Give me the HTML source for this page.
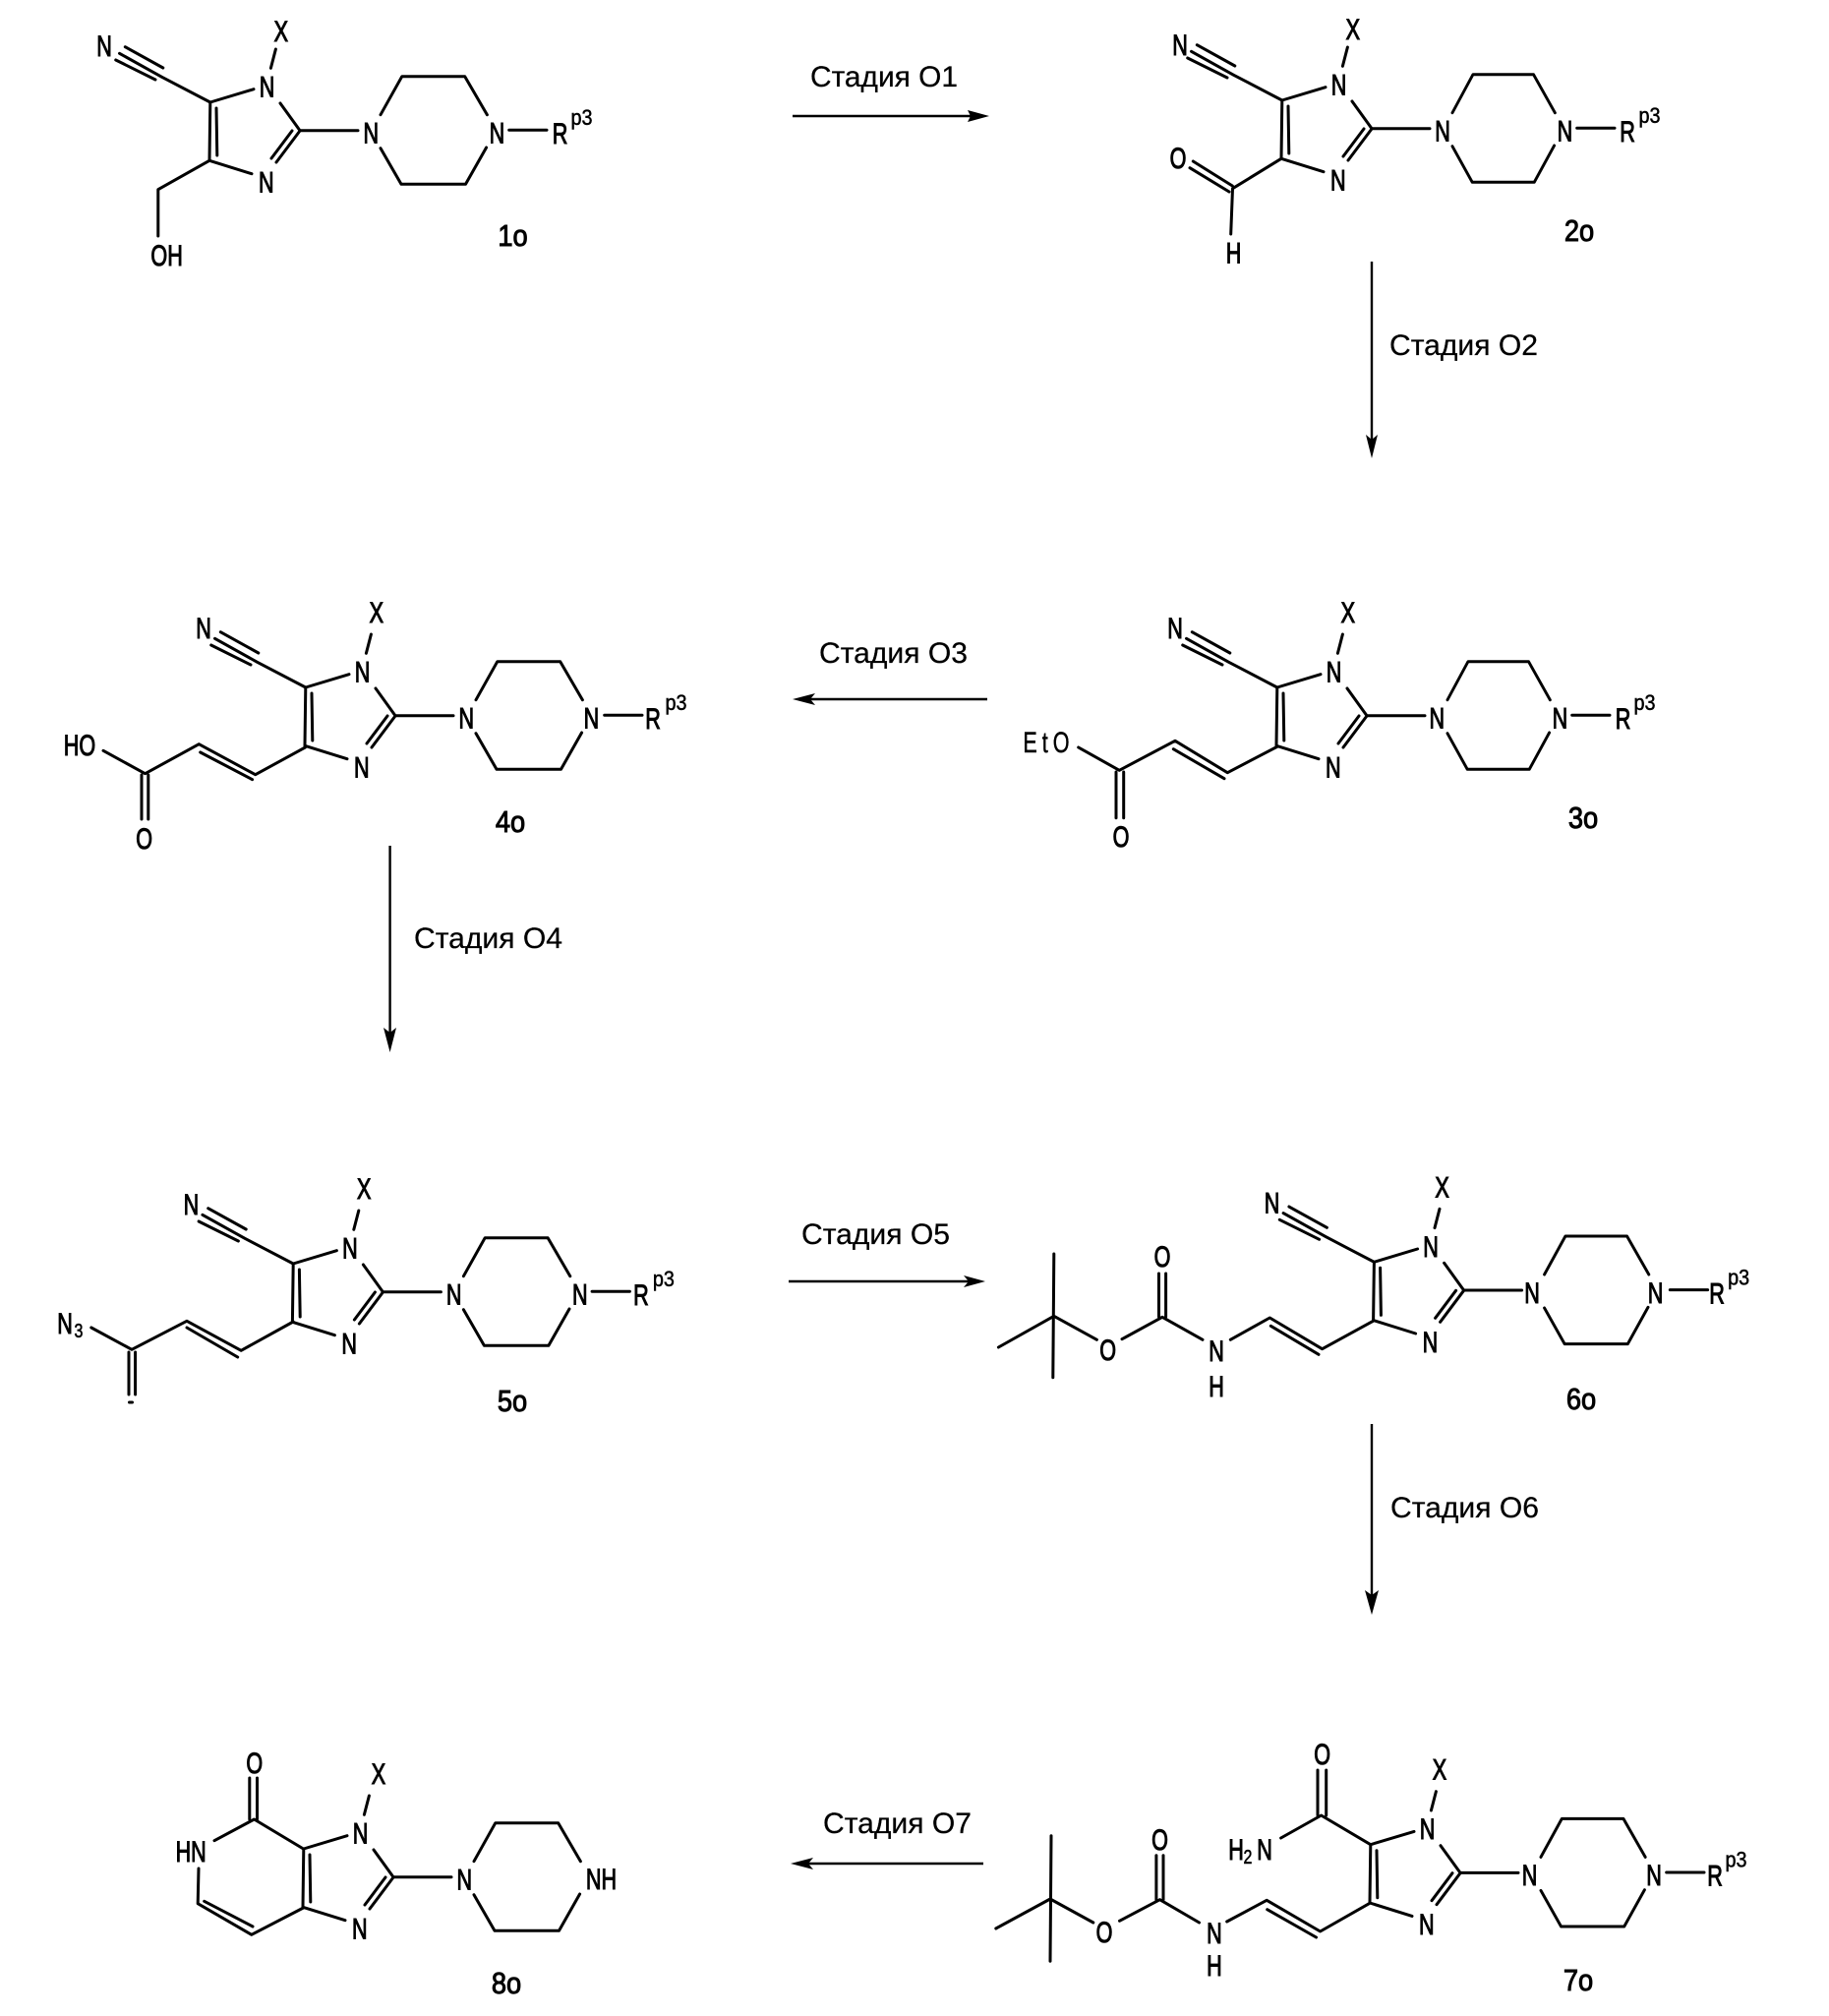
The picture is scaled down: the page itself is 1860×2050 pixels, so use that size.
<!DOCTYPE html>
<html><head><meta charset="utf-8">
<style>
html,body{margin:0;padding:0;background:#fff}
svg{display:block}
.b{fill:none;stroke:#000;stroke-width:3;stroke-linecap:round;stroke-linejoin:round}
.t{fill:none;stroke:#000;stroke-width:2.4}
text{font-family:"Liberation Sans",sans-serif;fill:#000}
.a{font-size:30px;text-anchor:middle;stroke:#000;stroke-width:1.1;transform-box:fill-box;transform-origin:center;transform:scaleX(.72)}
.e{font-size:30px;text-anchor:middle;stroke:#000;stroke-width:.5;letter-spacing:7px;transform-box:fill-box;transform-origin:center;transform:scaleX(.72)}
.s{font-size:22px;text-anchor:middle;stroke:#000;stroke-width:.5;transform-box:fill-box;transform-origin:center;transform:scaleX(.9)}
.u{font-size:20px;text-anchor:middle;stroke:#000;stroke-width:.6;transform-box:fill-box;transform-origin:center;transform:scaleX(.8)}
.l{font-size:31px;text-anchor:middle;stroke:#000;stroke-width:1;transform-box:fill-box;transform-origin:center;transform:scaleX(.88)}
.st{font-size:30px;fill:#000;stroke:#000;stroke-width:.25}
</style></head><body>
<svg xmlns="http://www.w3.org/2000/svg" width="1860" height="2050" viewBox="0 0 1860 2050">
<defs>
<path id="core" class="b" d="M213.8 104L258 90.7M285 105L305 132.7M297 133L276 161M305 133L281 165M256 176.7L213 163.3M213.8 104L213 163.3M220 110L220.8 158M305 132.7H364M280.4 50L275.4 69.3"/>
<path id="pip" class="b" d="M387 116.7L408.8 77.7H472.7L495.4 116.7M387 150.7L408 187.3H473.5L494.6 150"/>
<path id="cy" class="b" d="M213.8 104L164.6 78.3M127.3 47.7L165.8 69M121.5 54.3L164.6 78.3M117.7 61L158 81"/>
<path id="rb" class="b" d="M517.7 132.3H556"/>
</defs>

<!-- 1o -->
<g>
<use href="#core"/><use href="#pip"/><use href="#cy"/><use href="#rb"/>
<path class="b" d="M213 163.3L160.8 192.7V240"/>
<text class="a" x="271.5" y="98.5">N</text><text class="a" x="270.8" y="195.5">N</text><text class="a" x="285.8" y="42">X</text>
<text class="a" x="377.3" y="145.5">N</text><text class="a" x="505.4" y="145.5">N</text><text class="a" x="569.6" y="146">R</text><text class="s" x="591.5" y="127">p3</text>
<text class="a" x="106" y="57">N</text><text class="a" x="169.6" y="270">OH</text><text class="l" x="521.5" y="250">1o</text>
</g>

<!-- 2o -->
<g transform="translate(1090,-2)">
<use href="#core"/><use href="#pip" transform="translate(14.3,0) scale(.963,1)"/><use href="#cy"/><use href="#rb" transform="translate(-4,0)"/>
<path class="b" d="M213 163.3L163.5 193.7L161.7 240M123.3 166L163.3 191M120 172.7L160 197"/>
<text class="a" x="271.5" y="98.5">N</text><text class="a" x="270.8" y="195.5">N</text><text class="a" x="285.8" y="42">X</text>
<text class="a" x="377" y="145.5">N</text><text class="a" x="501.4" y="145.5">N</text><text class="a" x="565" y="146">R</text><text class="s" x="587.5" y="127">p3</text>
<text class="a" x="110" y="58">N</text><text class="a" x="108" y="173">O</text><text class="a" x="164.5" y="269.7">H</text><text class="l" x="516" y="247">2o</text>
</g>

<!-- 3o -->
<g transform="translate(1085,595)">
<use href="#core"/><use href="#pip" transform="translate(14.3,0) scale(.963,1)"/><use href="#cy"/><use href="#rb" transform="translate(-4,0)"/>
<text class="a" x="271.5" y="98.5">N</text><text class="a" x="270.8" y="195.5">N</text><text class="a" x="285.8" y="38">X</text>
<text class="a" x="376.3" y="145.5">N</text><text class="a" x="501.4" y="145.5">N</text><text class="a" x="565.6" y="146">R</text><text class="s" x="587.5" y="127">p3</text>
<text class="a" x="110" y="54">N</text><text class="l" x="525" y="247">3o</text>
</g>
<path class="b" d="M1299.4 759L1248.3 785.7L1195 753.3L1138.3 783.3L1096.7 760M1193.3 761.7L1245 791.7M1135 785V831.7M1142.7 785V831.7"/>
<text class="e" x="1066.5" y="765">EtO</text>
<text class="a" x="1140" y="861">O</text>

<!-- 4o -->
<g transform="translate(97,595)">
<use href="#core"/><use href="#pip"/><use href="#cy"/><use href="#rb"/>
<text class="a" x="271.5" y="98.5">N</text><text class="a" x="270.8" y="195.5">N</text><text class="a" x="285.8" y="38">X</text>
<text class="a" x="377.3" y="145.5">N</text><text class="a" x="504.4" y="145.5">N</text><text class="a" x="567" y="146">R</text><text class="s" x="590.5" y="127">p3</text>
<text class="a" x="110" y="54">N</text>
</g>
<path class="b" d="M310.4 760L259.7 787.7L202.3 756.7L147.6 786.7L105 763.3M203.7 765L256.6 792.7M144 788V833M150.8 788V833"/>
<text class="a" x="81" y="768">HO</text><text class="a" x="146.7" y="863">O</text><text class="l" x="519" y="846">4o</text>

<!-- 5o -->
<g transform="translate(84.4,1181)">
<use href="#core"/><use href="#pip"/><use href="#cy"/><use href="#rb"/>
<text class="a" x="271.5" y="98.5">N</text><text class="a" x="270.8" y="195.5">N</text><text class="a" x="285.8" y="38">X</text>
<text class="a" x="377.3" y="145.5">N</text><text class="a" x="505.4" y="145.5">N</text><text class="a" x="567.5" y="146">R</text><text class="s" x="590.5" y="127">p3</text>
<text class="a" x="110" y="54">N</text>
</g>
<path class="b" d="M298.2 1344L245.2 1373.3L190 1343.3L134 1372.3L92.8 1350M190 1350L241.7 1380M131 1375V1418M137.6 1375V1418M131.5 1426H134.5"/>
<text class="a" x="66" y="1356">N</text><text class="u" x="80" y="1360">3</text><text class="l" x="521" y="1435">5o</text>

<!-- 6o -->
<g transform="translate(1183.6,1179.3)">
<use href="#core"/><use href="#pip" transform="translate(7.7,0) scale(.98,1)"/><use href="#cy"/><use href="#rb" transform="translate(-3,0)"/>
<text class="a" x="271.5" y="98.5">N</text><text class="a" x="270.8" y="195.5">N</text><text class="a" x="283" y="38">X</text>
<text class="a" x="374.5" y="145.5">N</text><text class="a" x="500" y="145.5">N</text><text class="a" x="562.5" y="146">R</text><text class="s" x="584.5" y="127">p3</text>
<text class="a" x="110" y="54">N</text>
</g>
<path class="b" d="M1396.4 1343.3L1344.6 1371.7L1291.3 1340L1251.3 1362.3M1292.3 1348.3L1341 1377.3M1223 1362.3L1182 1339.3L1141 1361.7M1178.5 1295V1339M1185.6 1295V1339M1115.4 1362.3L1071.8 1338.3M1071.8 1275L1070.8 1400.7M1071.8 1338.3L1015.4 1370"/>
<text class="a" x="1237" y="1384">N</text><text class="a" x="1237" y="1420">H</text><text class="a" x="1182" y="1288">O</text><text class="a" x="1126.7" y="1383">O</text><text class="l" x="1608" y="1433">6o</text>

<!-- 7o -->
<g transform="translate(1180,1771.7)">
<use href="#core"/><use href="#pip" transform="translate(7.7,0) scale(.98,1)"/><use href="#rb" transform="translate(-3,0)"/>
<text class="a" x="271.5" y="98.5">N</text><text class="a" x="270.8" y="195.5">N</text><text class="a" x="284" y="38">X</text>
<text class="a" x="375.5" y="145.5">N</text><text class="a" x="502" y="145.5">N</text><text class="a" x="564" y="146">R</text><text class="s" x="585.5" y="127">p3</text>
</g>
<path class="b" d="M1392.3 1935.7L1342.6 1964L1288.2 1932.3L1247.7 1954M1288.7 1941.7L1338.5 1970M1219.5 1955L1179.5 1931.7L1138.5 1953.3M1175.9 1886.7V1931.7M1183 1886.7V1931.7M1111.8 1955L1068 1931M1069 1866.7L1068 1994.3M1068 1931L1012.8 1961M1393.8 1875.7L1343.6 1846L1302.6 1869M1340 1800V1846M1348.7 1800V1846"/>
<text class="a" x="1234.9" y="1976">N</text><text class="a" x="1234.9" y="2009">H</text><text class="a" x="1179.5" y="1881">O</text><text class="a" x="1123" y="1975">O</text><text class="a" x="1344.6" y="1794">O</text>
<text class="a" x="1257" y="1891">H</text><text class="u" x="1269" y="1895">2</text><text class="a" x="1286" y="1891">N</text>
<text class="l" x="1605" y="2024">7o</text>

<!-- 8o -->
<g transform="translate(95,1776)">
<use href="#core"/><use href="#pip"/>
<text class="a" x="271.5" y="98.5">N</text><text class="a" x="270.8" y="195.5">N</text>
<text class="a" x="377.3" y="145.5">N</text>
</g>
<path class="b" d="M308.5 1880L258.5 1850L218 1871.7M253.8 1808V1850M261.5 1808V1850M202 1900L201.2 1935.7L255.8 1967.3L308.5 1940M207.7 1933.3L257 1959"/>
<text class="a" x="385" y="1814">X</text><text class="a" x="258.8" y="1803">O</text><text class="a" x="194.2" y="1893">HN</text><text class="a" x="611.5" y="1921">NH</text><text class="l" x="515" y="2027">8o</text>

<!-- arrows -->
<path class="t" d="M806 118H990"/><polygon points="1006,118 984,112 987,118 984,124"/>
<text class="st" x="824" y="88" textLength="150" lengthAdjust="spacingAndGlyphs">Стадия O1</text>
<path class="t" d="M1395 266V448"/><polygon points="1395,466 1389,442 1395,447 1401,442"/>
<text class="st" x="1413" y="361" textLength="151" lengthAdjust="spacingAndGlyphs">Стадия O2</text>
<path class="t" d="M1004 711H822"/><polygon points="806,711 829,705 824,711 829,717"/>
<text class="st" x="833" y="674" textLength="151" lengthAdjust="spacingAndGlyphs">Стадия O3</text>
<path class="t" d="M396.6 860V1052"/><polygon points="396.6,1070 390,1045 396.6,1050 403,1045"/>
<text class="st" x="421" y="964" textLength="151" lengthAdjust="spacingAndGlyphs">Стадия O4</text>
<path class="t" d="M802 1303H985"/><polygon points="1002,1303 980,1297 985,1303 980,1309"/>
<text class="st" x="815" y="1265" textLength="151" lengthAdjust="spacingAndGlyphs">Стадия O5</text>
<path class="t" d="M1395 1448V1625"/><polygon points="1395,1642 1388,1617 1395,1622 1402,1617"/>
<text class="st" x="1414" y="1543" textLength="151" lengthAdjust="spacingAndGlyphs">Стадия O6</text>
<path class="t" d="M1000 1895H820"/><polygon points="804,1895 827,1889 822,1895 827,1901"/>
<text class="st" x="837" y="1864" textLength="151" lengthAdjust="spacingAndGlyphs">Стадия O7</text>
</svg>
</body></html>
